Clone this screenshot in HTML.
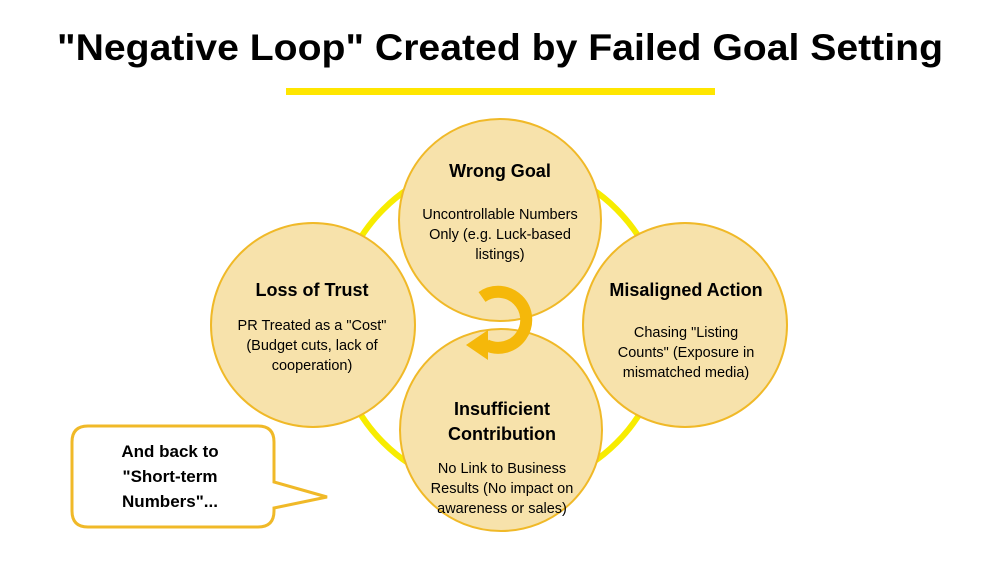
<!DOCTYPE html>
<html><head><meta charset="utf-8"><style>
body{margin:0;background:#fff;width:1000px;height:563px;overflow:hidden;font-family:"Liberation Sans",sans-serif}
</style></head><body>
<svg width="1000" height="563" viewBox="0 0 1000 563" xmlns="http://www.w3.org/2000/svg" font-family="Liberation Sans, sans-serif">
<text x="500" y="60" text-anchor="middle" font-size="37" font-weight="bold" fill="#000" textLength="886" lengthAdjust="spacingAndGlyphs">"Negative Loop" Created by Failed Goal Setting</text>
<rect x="286" y="88" width="429" height="7" fill="#ffe600"/>
<circle cx="500" cy="326" r="165" fill="none" stroke="#f7ec00" stroke-width="6"/>
<g fill="#f7e2ab" stroke="#f0b928" stroke-width="2">
<circle cx="500" cy="220" r="101"/>
<circle cx="313" cy="325" r="102"/>
<circle cx="685" cy="325" r="102"/>
<circle cx="501" cy="430" r="101"/>
</g>
<path d="M482 297 A28 28 0 1 1 486 345" fill="none" stroke="#f5b80a" stroke-width="12"/>
<polygon points="466,345 488,330 488,360" fill="#f5b80a"/>
<g text-anchor="middle" fill="#000">
<text x="500" y="177" font-size="18" font-weight="bold">Wrong Goal</text>
<text font-size="14.5"><tspan x="500" y="219">Uncontrollable Numbers</tspan><tspan x="500" y="239">Only (e.g. Luck-based</tspan><tspan x="500" y="259">listings)</tspan></text>
<text x="312" y="296" font-size="18" font-weight="bold">Loss of Trust</text>
<text font-size="14.5"><tspan x="312" y="330">PR Treated as a "Cost"</tspan><tspan x="312" y="350">(Budget cuts, lack of</tspan><tspan x="312" y="370">cooperation)</tspan></text>
<text x="686" y="296" font-size="18" font-weight="bold">Misaligned Action</text>
<text font-size="14.5"><tspan x="686" y="337">Chasing "Listing</tspan><tspan x="686" y="357">Counts" (Exposure in</tspan><tspan x="686" y="377">mismatched media)</tspan></text>
<text font-size="18" font-weight="bold"><tspan x="502" y="415">Insufficient</tspan><tspan x="502" y="440">Contribution</tspan></text>
<text font-size="14.5"><tspan x="502" y="473">No Link to Business</tspan><tspan x="502" y="493">Results (No impact on</tspan><tspan x="502" y="513">awareness or sales)</tspan></text>
</g>
<path d="M88 426 H258 Q274 426 274 442 V482 L327 497 L274 508 V511 Q274 527 258 527 H88 Q72 527 72 511 V442 Q72 426 88 426 Z" fill="#fff" stroke="#f0b928" stroke-width="3"/>
<text font-size="17" font-weight="bold" text-anchor="middle" fill="#000"><tspan x="170" y="457">And back to</tspan><tspan x="170" y="482">"Short-term</tspan><tspan x="170" y="507">Numbers"...</tspan></text>
</svg>
</body></html>
